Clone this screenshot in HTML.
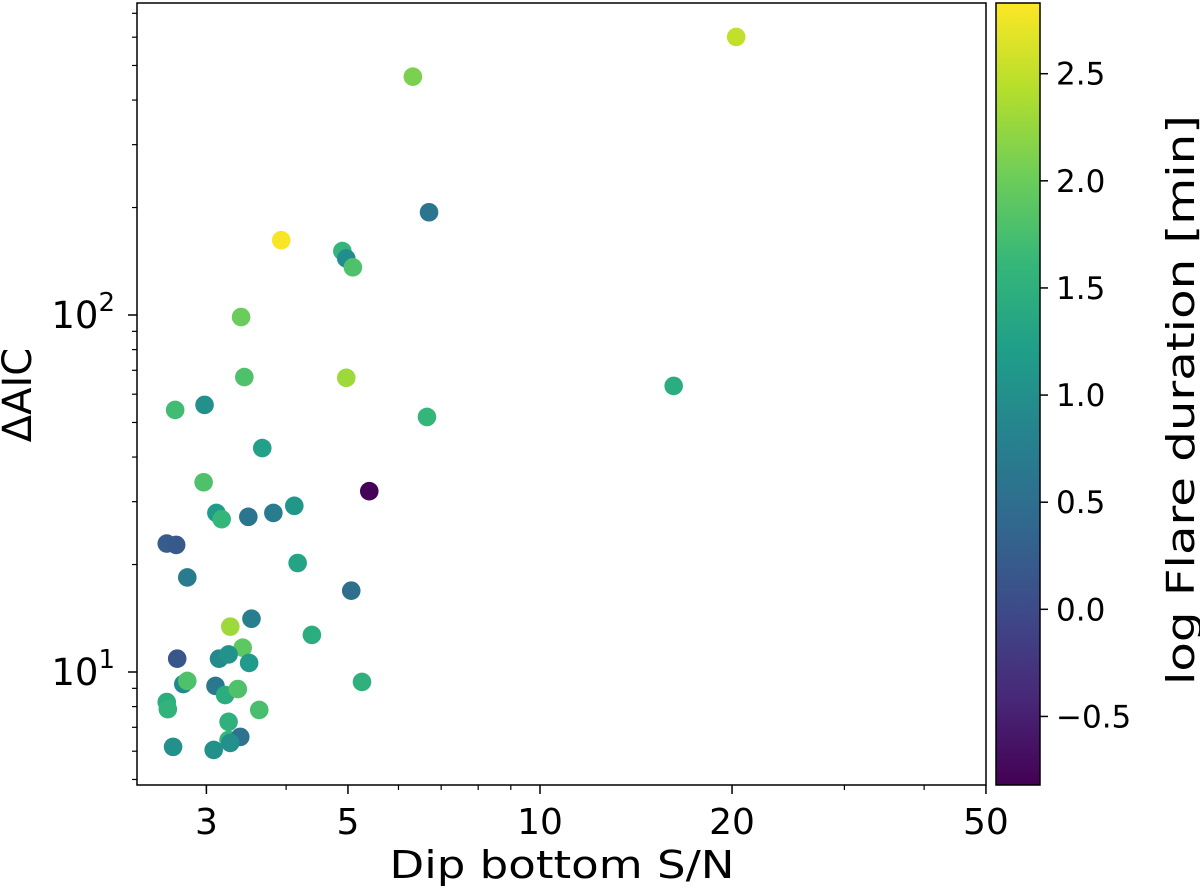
<!DOCTYPE html>
<html><head><meta charset="utf-8"><style>
html,body{margin:0;padding:0;background:#fff;}
svg{display:block;font-family:"DejaVu Sans","Liberation Sans",sans-serif;}
</style></head><body>
<svg id="chart" width="1200" height="891" xmlns="http://www.w3.org/2000/svg">
<defs><linearGradient id="vir" x1="0" y1="1" x2="0" y2="0"></linearGradient></defs>
<g id="cbar"></g>
<g id="pts"></g>
<g id="axes"></g>
</svg>
<script>
const xVals=[6.32,6.70,3.93,4.90,4.97,5.09,3.40,3.44,4.97,16.2,20.3,2.68,2.98,6.65,3.67,2.97,5.40,3.11,3.17,3.49,3.82,4.12,2.60,2.69,4.17,2.80,5.06,3.53,3.27,4.39,3.42,2.70,3.14,3.25,3.50,2.76,2.80,5.26,3.10,3.21,3.36,2.60,2.61,3.63,3.25,3.25,3.39,3.27,2.66,3.08];
const yVals=[465,194,162,151,144,136,98.7,67,66.7,63.3,601,54.2,56,51.8,42.4,34.0,32.1,27.9,26.8,27.2,27.9,29.2,22.9,22.7,20.2,18.4,16.9,14.1,13.4,12.7,11.7,10.9,10.9,11.2,10.6,9.25,9.44,9.38,9.14,8.62,8.96,8.24,7.87,7.83,7.25,6.45,6.58,6.33,6.17,6.05];
const cVals=[2.1,0.6,2.8,1.6,0.95,1.8,2.0,1.8,2.3,1.45,2.5,1.7,1.0,1.6,1.25,1.8,-0.8,1.15,1.6,0.6,0.7,1.1,0.25,0.2,1.3,0.7,0.5,0.75,2.3,1.45,1.9,0.15,0.9,1.05,1.15,0.9,1.8,1.5,0.65,1.45,1.8,1.45,1.55,1.75,1.5,1.6,0.55,1.0,1.0,1.0];
const xTicks=[3,5,10,20,50];
const xTickLabels=["3","5","10","20","50"];
const yTicks=[10,100];
const yTickExp=["1","2"];
const cTicks=[-0.5,0,0.5,1.0,1.5,2.0,2.5];
const cTickLabels=["\u22120.5","0.0","0.5","1.0","1.5","2.0","2.5"];

const NS="http://www.w3.org/2000/svg";
const L=137,R=986,T=3,B=785;
const xs=v=>540+638*(Math.log10(v)-1);
const ys=v=>315-357*(Math.log10(v)-2);
const cMin=-0.82,cMax=2.83,CT=3,CB=785,CL=996,CR=1040;
const cs=v=>CB-(v-cMin)/(cMax-cMin)*(CB-CT);
const vir=[[68,1,84],[72,40,120],[62,74,137],[49,104,142],[38,130,142],[31,158,137],[53,183,121],[109,205,89],[180,222,44],[253,231,37]];
function color(v){let t=(v-cMin)/(cMax-cMin);t=Math.max(0,Math.min(1,t))*(vir.length-1);const i=Math.min(Math.floor(t),vir.length-2),f=t-i;const a=vir[i],b=vir[i+1];return `rgb(${a.map((x,k)=>Math.round(x+(b[k]-x)*f)).join(",")})`;}
function mk(tag,attrs,parent){const e=document.createElementNS(NS,tag);for(const k in attrs)e.setAttribute(k,attrs[k]);parent.appendChild(e);return e;}

const grad=document.getElementById('vir');
vir.forEach((c,i)=>mk('stop',{offset:(i/(vir.length-1)*100)+'%','stop-color':`rgb(${c.join(',')})`},grad));
const cb=document.getElementById('cbar');
const cr=mk('rect',{x:CL,y:CT,width:CR-CL,height:CB-CT,fill:'url(#vir)',stroke:'#000','stroke-width':1.5},cb);


cTicks.forEach((v,i)=>{
  const y=cs(v);
  mk('line',{x1:CR,x2:CR+8,y1:y,y2:y,stroke:'#000','stroke-width':1.5},cb);
  const t=mk('text',{x:CR+16,y:y+11,'font-size':31,fill:'#000'},cb);
  t.textContent=cTickLabels[i];
  
  
});
const cl=mk('text',{x:0,y:0,'font-size':38,'text-anchor':'middle',textLength:570,lengthAdjust:'spacingAndGlyphs',transform:'translate(1194,400) rotate(-90)'},cb);
cl.textContent="log  Flare duration [min]";



const pg=document.getElementById('pts');
xVals.forEach((x,i)=>{
  const c=mk('circle',{cx:xs(x),cy:ys(yVals[i]),r:9.3,fill:color(cVals[i])},pg);
  
  
});

const ax=document.getElementById('axes');
const fr=mk('rect',{x:L,y:T,width:R-L,height:B-T,fill:'none',stroke:'#000','stroke-width':1.5},ax);


[3,4,6,7,8,9,30,40].forEach(v=>mk('line',{x1:xs(v),x2:xs(v),y1:B,y2:B+5,stroke:'#000','stroke-width':1.2},ax));
xTicks.forEach((v,i)=>{
  const x=xs(v);
  mk('line',{x1:x,x2:x,y1:B,y2:B+9,stroke:'#000','stroke-width':1.5},ax);
  const t=mk('text',{x:x,y:B+49,'font-size':36,'text-anchor':'middle'},ax);
  t.textContent=xTickLabels[i];
  
  
});
for(let d=0;d<3;d++)for(let m=2;m<=9;m++){const v=m*Math.pow(10,d);const y=ys(v);if(y>T&&y<B)mk('line',{x1:L-5,x2:L,y1:y,y2:y,stroke:'#000','stroke-width':1.2},ax);}
yTicks.forEach((v,i)=>{
  const y=ys(v);
  mk('line',{x1:L-9,x2:L,y1:y,y2:y,stroke:'#000','stroke-width':1.5},ax);
  const t=mk('text',{x:L-22,y:y+13,'font-size':37,'text-anchor':'end'},ax);
  t.innerHTML='10<tspan dy="-17" font-size="26">'+yTickExp[i]+'</tspan>';
  
  
});
const xl=mk('text',{x:562,y:878,'font-size':38,'text-anchor':'middle',textLength:345,lengthAdjust:'spacingAndGlyphs'},ax);
xl.textContent="Dip bottom S/N";


const yl=mk('text',{x:0,y:0,'font-size':40,'text-anchor':'middle',transform:'translate(31,395) rotate(-90)'},ax);
yl.textContent="\u0394AIC";


</script>
</body></html>
